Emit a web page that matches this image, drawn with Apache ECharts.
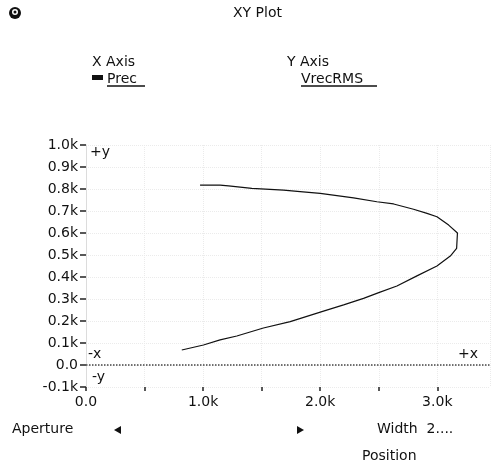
<!DOCTYPE html>
<html>
<head>
<meta charset="utf-8" />
<title>XY Plot</title>
<script src="https://cdn.jsdelivr.net/npm/echarts@6/dist/echarts.min.js"></script>
<style>
  html,
  body {
    margin: 0;
    padding: 0;
    background: #fff;
  }
  #chart {
    width: 493px;
    height: 467px;
  }
</style>
</head>
<body>
<div id="chart"></div>
<script>
// Prec (x) and VrecRMS (y): lower branch out to the tip, then back along the top
let precValues = [818, 1003, 1145, 1288, 1515, 1744, 2028, 2200, 2370, 2500, 2655, 2826, 2997, 3111, 3165, 3172, 3097, 2997, 2912, 2797, 2627, 2484, 2285, 2000, 1829, 1687, 1416, 1217, 1145, 974];
let vrecValues = [68, 91, 114, 132, 168, 197, 245, 273, 303, 329, 359, 405, 450, 495, 530, 600, 636, 674, 689, 708, 732, 742, 760, 780, 788, 795, 803, 814, 818, 818];

let xMin = 0;
let xMax = 3450;
let xStep = 500;
let yMin = -100;
let yMax = 1000;
let yStep = 100;

let font = "DejaVu Sans";

function kLabel(v) {
  if (v === 0) return "0.0";
  return (v / 1000).toFixed(1) + "k";
}

let points = precValues.map((x, i) => [x, vrecValues[i]]);

let chart = echarts.init(document.getElementById("chart"));

let option = {
  backgroundColor: "#fff",
  animation: false,
  grid: {
    left: 86,
    top: 145,
    right: 3,
    bottom: 80,
    outerBoundsMode: "none",
  },
  xAxis: {
    type: "value",
    min: xMin,
    max: xMax,
    interval: xStep,
    axisLine: { show: false, onZero: false },
    axisTick: {
      show: true,
      length: 4,
      lineStyle: { color: "#222", width: 1.5 },
    },
    axisLabel: {
      margin: 8,
      color: "#111",
      fontFamily: font,
      fontSize: 14,
      showMaxLabel: false,
      formatter: (v) => (v % 1000 === 0 ? kLabel(v) : ""),
    },
    splitLine: {
      show: true,
      lineStyle: { color: "#ebebeb", type: "dotted" },
    },
  },
  yAxis: {
    type: "value",
    min: yMin,
    max: yMax,
    interval: yStep,
    axisLine: {
      show: true,
      onZero: false,
      lineStyle: { color: "#dcdcdc" },
    },
    axisTick: {
      show: true,
      length: 6,
      lineStyle: { color: "#222", width: 1.5 },
    },
    axisLabel: {
      margin: 8,
      color: "#111",
      fontFamily: font,
      fontSize: 14,
      formatter: kLabel,
    },
    splitLine: {
      show: true,
      lineStyle: { color: "#ebebeb", type: "dotted" },
    },
  },
  series: [
    {
      name: "VrecRMS",
      type: "line",
      data: points,
      showSymbol: false,
      smooth: false,
      lineStyle: { color: "#111", width: 1.2 },
      markLine: {
        silent: true,
        symbol: "none",
        label: { show: false },
        lineStyle: { color: "#444", type: "dotted", width: 1.5 },
        data: [{ yAxis: 0 }],
      },
    },
  ],
  graphic: [
    // eye icon top left
    { type: "circle", shape: { cx: 15, cy: 13, r: 6 }, style: { fill: "#111" } },
    { type: "circle", shape: { cx: 15, cy: 12, r: 3 }, style: { fill: "#fff" } },
    { type: "circle", shape: { cx: 15, cy: 12, r: 1.5 }, style: { fill: "#111" } },
    {
      type: "text",
      left: 233,
      top: 6,
      style: { text: "XY Plot", fontFamily: font, fontSize: 14, fill: "#111" },
    },
    {
      type: "text",
      left: 92,
      top: 55,
      style: { text: "X Axis", fontFamily: font, fontSize: 14, fill: "#111" },
    },
    {
      type: "text",
      left: 287,
      top: 55,
      style: { text: "Y Axis", fontFamily: font, fontSize: 14, fill: "#111" },
    },
    { type: "rect", shape: { x: 92, y: 75, width: 11, height: 5 }, style: { fill: "#111" } },
    {
      type: "text",
      left: 107,
      top: 72,
      style: { text: "Prec", fontFamily: font, fontSize: 14, fill: "#111" },
    },
    { type: "line", shape: { x1: 107, y1: 86, x2: 145, y2: 86 }, style: { stroke: "#111", lineWidth: 1.5 } },
    {
      type: "text",
      left: 301,
      top: 72,
      style: { text: "VrecRMS", fontFamily: font, fontSize: 14, fill: "#111" },
    },
    { type: "line", shape: { x1: 301, y1: 86, x2: 377, y2: 86 }, style: { stroke: "#111", lineWidth: 1.5 } },
    // axis direction marks
    {
      type: "text",
      left: 90,
      top: 145,
      style: { text: "+y", fontFamily: font, fontSize: 14, fill: "#111" },
    },
    {
      type: "text",
      left: 88,
      top: 347,
      style: { text: "-x", fontFamily: font, fontSize: 14, fill: "#111" },
    },
    {
      type: "text",
      left: 92,
      top: 370,
      style: { text: "-y", fontFamily: font, fontSize: 14, fill: "#111" },
    },
    {
      type: "text",
      left: 458,
      top: 347,
      style: { text: "+x", fontFamily: font, fontSize: 14, fill: "#111" },
    },
    // controls under the plot
    {
      type: "text",
      left: 12,
      top: 422,
      style: { text: "Aperture", fontFamily: font, fontSize: 14, fill: "#111" },
    },
    { type: "polygon", shape: { points: [[114, 430], [121, 426], [121, 434]] }, style: { fill: "#111" } },
    { type: "polygon", shape: { points: [[304, 430], [297, 426], [297, 434]] }, style: { fill: "#111" } },
    {
      type: "text",
      left: 377,
      top: 422,
      style: { text: "Width  2....", fontFamily: font, fontSize: 14, fill: "#111" },
    },
    {
      type: "text",
      left: 362,
      top: 449,
      style: { text: "Position", fontFamily: font, fontSize: 14, fill: "#111" },
    },
  ],
};

chart.setOption(option);
</script>
</body>
</html>
